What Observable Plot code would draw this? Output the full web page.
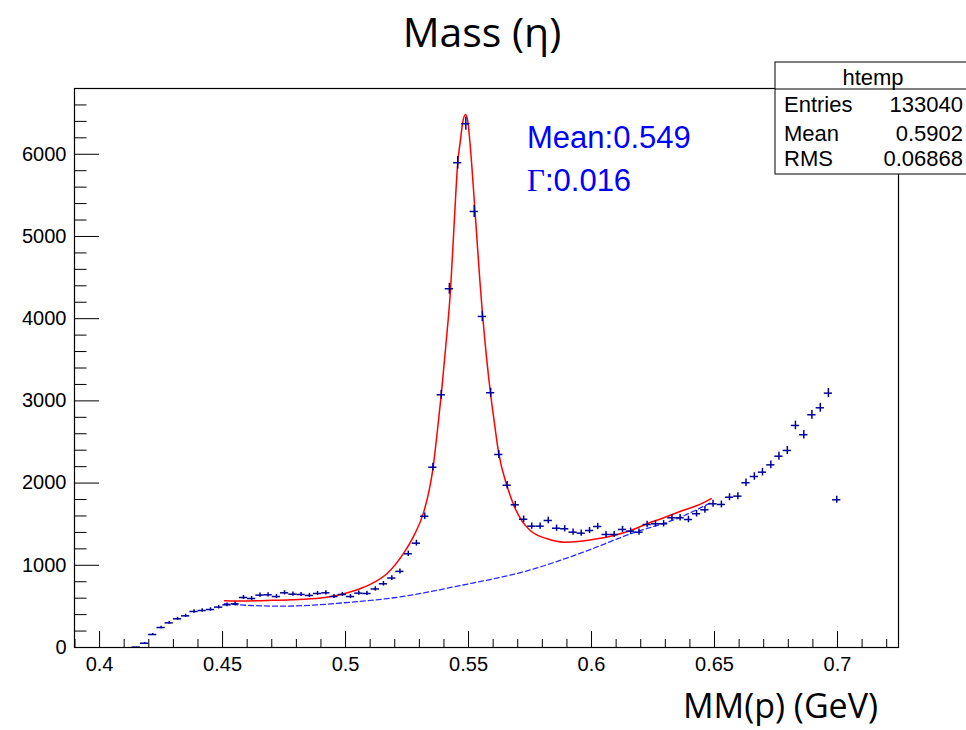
<!DOCTYPE html>
<html><head><meta charset="utf-8">
<script src="https://cdn.jsdelivr.net/npm/d3@7"></script>
<script src="https://cdn.jsdelivr.net/npm/@observablehq/plot@0.6"></script>
<style>body{margin:0;background:#fff}</style>
</head><body><div id="chart"></div>
<script>
// Histogram bin centres (GeV) and entries
const massBins = [0.4149,0.4183,0.4216,0.4250,0.4283,0.4317,0.4350,0.4384,0.4417,0.4451,
  0.4484,0.4518,0.4551,0.4585,0.4618,0.4652,0.4685,0.4719,0.4752,0.4786,
  0.4819,0.4853,0.4886,0.4920,0.4953,0.4987,0.5020,0.5054,0.5087,0.5121,
  0.5154,0.5188,0.5221,0.5255,0.5288,0.5322,0.5355,0.5389,0.5422,0.5456,
  0.5489,0.5523,0.5556,0.5590,0.5623,0.5657,0.5690,0.5724,0.5757,0.5791,
  0.5824,0.5858,0.5891,0.5925,0.5958,0.5992,0.6025,0.6059,0.6092,0.6126,
  0.6159,0.6193,0.6226,0.6260,0.6293,0.6327,0.6360,0.6394,0.6427,0.6461,
  0.6494,0.6528,0.6561,0.6595,0.6628,0.6662,0.6695,0.6729,0.6762,0.6796,
  0.6829,0.6863,0.6896,0.6930,0.6963,0.6997];
const counts = [5,52,158,243,300,349,385,438,450,462,
  491,519,531,608,596,637,641,620,665,649,
  645,633,657,665,620,645,620,661,657,712,
  775,845,926,1140,1269,1597,2193,3074,4364,5897,
  6371,5304,4027,3099,2348,1974,1736,1560,1476,1476,
  1545,1451,1444,1403,1391,1423,1472,1375,1375,1436,
  1415,1403,1496,1505,1505,1578,1578,1557,1627,1675,
  1748,1740,1828,1841,2004,2080,2133,2222,2327,2397,
  2701,2588,2831,2916,3094,1797];
const binWidth = 0.00335;

// Fit (signal + background)
const fitMass = [0.4508,0.4580,0.4682,0.4780,0.4858,0.4930,0.4993,0.5050,0.5102,0.5169,
  0.5237,0.5278,0.5318,0.5339,0.5355,0.5372,0.5389,0.5407,
  0.5427,0.5443,0.5456,0.5467,0.5477,0.5488,0.5497,0.5505,0.5528,0.5546,
  0.5573,0.5589,0.5603,0.5623,0.5657,0.5684,0.5718,
  0.5752,0.5820,0.5888,0.5955,0.6023,0.6091,0.6159,0.6226,0.6294,0.6362,
  0.6430,0.6487];
const fitCounts = [568,566,572,580,592,615,653,705,770,900,
  1150,1360,1650,1900,2170,2600,3074,3653,
  4364,5235,5897,6168,6400,6484,6400,6168,5235,4465,
  3532,3099,2780,2357,1960,1730,1535,
  1420,1322,1281,1293,1322,1363,1423,1505,1578,1658,
  1727,1812];
// Background component (dashed)
const bgMass = [0.4508,0.4614,0.4749,0.4885,0.5020,0.5196,0.5467,0.5752,0.5955,0.6159,0.6362,0.6487];
const bgCounts = [532,511,503,519,551,605,754,945,1147,1383,1585,1765];

const xMajorTicks = [0.4,0.45,0.5,0.55,0.6,0.65,0.7];
const xMinorTicks = [0.39,0.41,0.42,0.43,0.44,0.46,0.47,0.48,0.49,0.51,0.52,0.53,0.54,
  0.56,0.57,0.58,0.59,0.61,0.62,0.63,0.64,0.66,0.67,0.68,0.69,0.71,0.72];
const yMajorTicks = [0,1000,2000,3000,4000,5000,6000];
const yMinorTicks = [200,400,600,800,1200,1400,1600,1800,2200,2400,2600,2800,
  3200,3400,3600,3800,4200,4400,4600,4800,5200,5400,5600,5800,6200,6400,6600,6800];

const titleText = "Mass (\u03b7)";
const xLabelText = "MM(p) (GeV)";
const statsName = "htemp";
const statsLabels = ["Entries","Mean","RMS"];
const statsValues = ["133040","0.5902","0.06868"];
const fitMeanText = "Mean:0.549";
const fitGammaText = ":0.016";

const bins = massBins.map((m, i) => ({m, c: counts[i]}));
const fit = fitMass.map((m, i) => ({m, c: fitCounts[i]}));
const bg = bgMass.map((m, i) => ({m, c: bgCounts[i]}));

const W = 966, H = 730, mL = 74, mR = 68, mT = 88, mB = 83;
const innerW = W - mL - mR, innerH = H - mT - mB;
const ptColor = "#000099";

const svg = Plot.plot({
  width: W, height: H,
  marginLeft: mL, marginRight: mR, marginTop: mT, marginBottom: mB,
  style: {fontFamily: "'Liberation Sans', Arial, sans-serif", fontSize: "20px", color: "black", background: "white"},
  x: {domain: [0.3898, 0.7248]},
  y: {domain: [0, 6800]},
  marks: [
    Plot.ruleX(xMajorTicks, {x: d => d, insetTop: innerH - 16, stroke: "black"}),
    Plot.ruleX(xMinorTicks, {x: d => d, insetTop: innerH - 8, stroke: "black"}),
    Plot.ruleY(yMajorTicks, {y: d => d, insetRight: innerW - 25, stroke: "black"}),
    Plot.ruleY(yMinorTicks, {y: d => d, insetRight: innerW - 12.5, stroke: "black"}),
    Plot.axisX({ticks: xMajorTicks, tickSize: 0, tickPadding: 9, tickFormat: d => String(d), label: null}),
    Plot.axisY({ticks: yMajorTicks, tickSize: 0, tickPadding: 8, tickFormat: d => String(d), label: null}),
    Plot.line(bg, {x: "m", y: "c", stroke: "#2a2aff", strokeWidth: 1.3, strokeDasharray: "5,3", curve: "monotone-x"}),
    Plot.line(fit, {x: "m", y: "c", stroke: "#ff0000", strokeWidth: 1.5, curve: "monotone-x"}),
    Plot.ruleY(bins, {y: "c", x1: d => d.m - binWidth / 2, x2: d => d.m + binWidth / 2, stroke: ptColor, strokeWidth: 1.5}),
    Plot.ruleX(bins, {x: "m", y1: d => d.c - Math.sqrt(d.c), y2: d => d.c + Math.sqrt(d.c), stroke: ptColor, strokeWidth: 1.5}),
    Plot.frame({stroke: "black", strokeWidth: 1.2})
  ]
});

const s = d3.select(svg);
// Title
s.append("text").attr("x", 482).attr("y", 47).attr("text-anchor", "middle")
  .style("font-family", "'Open Sans', sans-serif").style("font-size", "41px").attr("fill", "black").text(titleText);
// X axis label
s.append("text").attr("x", 878).attr("y", 718).attr("text-anchor", "end")
  .style("font-family", "'Open Sans', sans-serif").style("font-size", "34px").attr("fill", "black").text(xLabelText);
// Fit annotations
s.append("text").attr("x", 527).attr("y", 148).attr("text-anchor", "start").attr("fill", "#0000ff")
  .style("font-family", "'Liberation Sans', Arial, sans-serif").style("font-size", "31px").text(fitMeanText);
const g = s.append("text").attr("x", 527).attr("y", 191).attr("text-anchor", "start").attr("fill", "#0000ff")
  .style("font-family", "'Liberation Sans', Arial, sans-serif").style("font-size", "31px");
g.append("tspan").style("font-family", "'Liberation Serif', 'DejaVu Serif', serif").text("\u0393");
g.append("tspan").text(fitGammaText);
// Stats box
const sb = s.append("g").style("font-family", "'Liberation Sans', Arial, sans-serif").style("font-size", "22px");
sb.append("rect").attr("x", 775).attr("y", 62).attr("width", 200).attr("height", 112)
  .attr("fill", "white").attr("stroke", "black").attr("stroke-width", 1);
sb.append("line").attr("x1", 775).attr("x2", 966).attr("y1", 89).attr("y2", 89).attr("stroke", "black");
sb.append("text").attr("x", 873).attr("y", 85).attr("text-anchor", "middle").text(statsName);
const rowY = [112, 141, 166];
statsLabels.forEach((lab, i) => {
  sb.append("text").attr("x", 784).attr("y", rowY[i]).attr("text-anchor", "start").text(lab);
  sb.append("text").attr("x", 963).attr("y", rowY[i]).attr("text-anchor", "end").text(statsValues[i]);
});

document.getElementById("chart").appendChild(svg);
</script>
</body></html>
